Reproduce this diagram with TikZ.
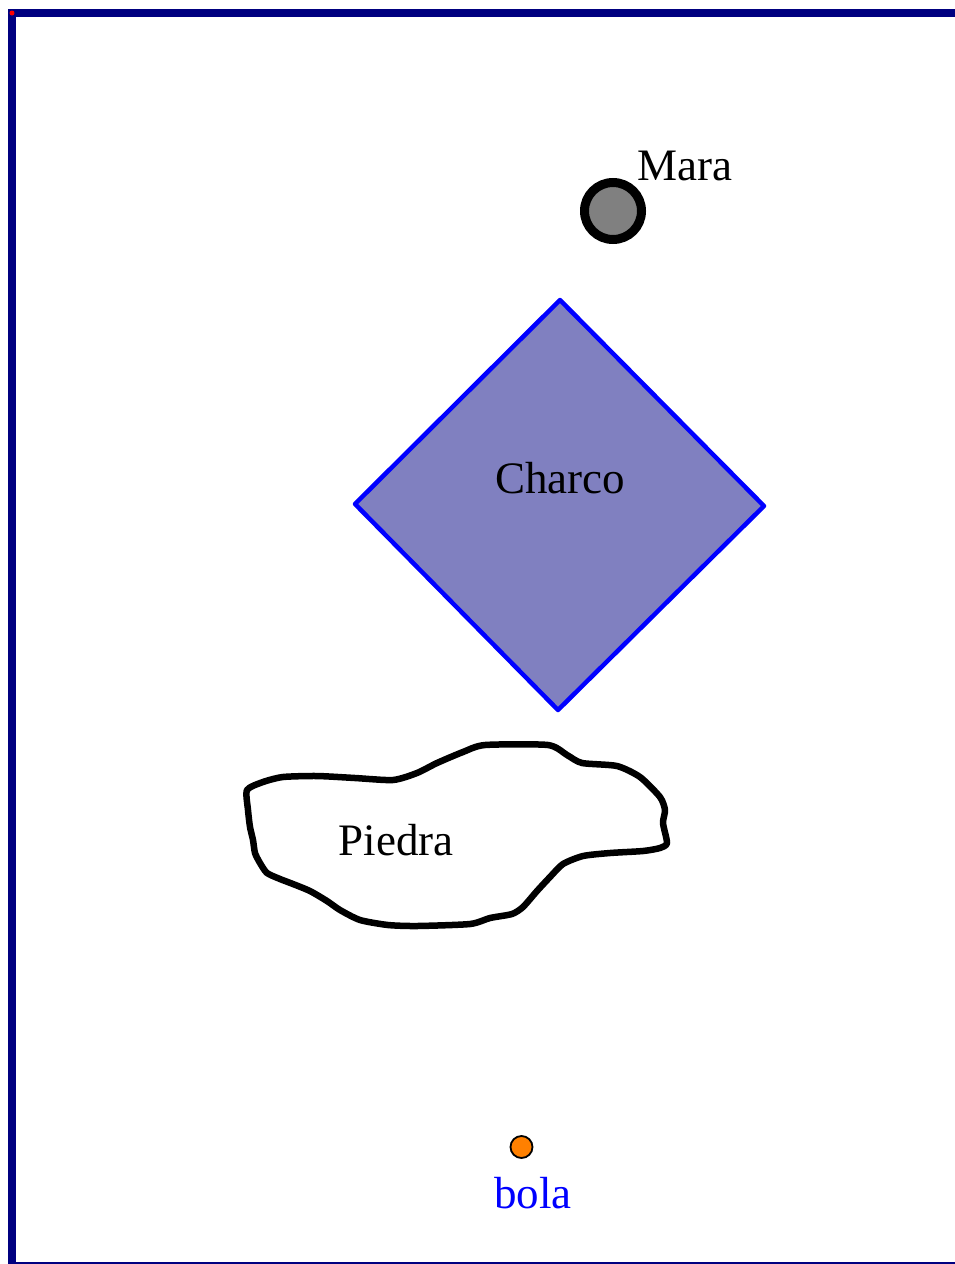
\documentclass[tikz,border=0pt]{standalone}
\usepackage{fontspec}
\setmainfont{Liberation Serif}
\definecolor{framenavy}{HTML}{000080}
\definecolor{charcofill}{HTML}{8080C0}
\definecolor{bolaorange}{HTML}{FF8000}
\definecolor{maragray}{HTML}{808080}
\tikzset{
  lbl/.style={inner sep=0pt, font=\fontsize{45}{50}\selectfont},
  framestroke/.style={draw=framenavy, line width=8pt},
}
\begin{document}
\begin{tikzpicture}[x=1pt,y=-1pt]
\useasboundingbox (0,0) rectangle (955,1264);
\fill[white] (0,0) rectangle (955,1264);
% frame
\coordinate (tl) at (12,13);
\coordinate (tr) at (960,13);
\coordinate (bl) at (12,1266);
\coordinate (br) at (960,1266);
\draw[framestroke, line cap=rect] (tr) -- (tl) -- (bl);
\draw[framestroke] (bl) -- (br);
\fill[red] (tl) circle (2.5pt);
% Mara
\draw[line width=9pt, fill=maragray] (613,211) circle (28.5pt);
\node[lbl, anchor=base west] (mara) at (637,180) {Mara};
% Charco
\coordinate (ct) at (560,300);
\coordinate (cr) at (764,506);
\coordinate (cb) at (558,710);
\coordinate (cl) at (355,504);
\filldraw[fill=charcofill, draw=blue, line width=4.5pt, line join=round] (ct) -- (cr) -- (cb) -- (cl) -- cycle;
\node[lbl, anchor=base] (charco) at (560,493) {Charco};
% Piedra
\draw[line width=6.5pt, line join=round] plot[smooth cycle, tension=0.4] coordinates {
 (247,790) (263,782) (283,777) (317,776) (355,778) (393,780) (417,773) (437,763)
 (463,752) (485,745) (548,745) (567,755) (582,763) (617,766) (640,777) (660,797)
 (665,810) (663,823) (667,843) (660,848) (643,851) (610,853) (583,856) (563,864)
 (550,877) (537,891) (523,907) (512,914) (490,918) (470,924) (417,926) (388,925)
 (360,920) (340,910) (327,901) (310,891) (293,884) (280,879) (267,873) (260,863)
 (255,853) (253,840) (250,827) (248,810)};
\node[lbl, anchor=base] (piedra) at (396,855) {Piedra};
% bola
\draw[line width=1.8pt, fill=bolaorange] (521.5,1147) circle (11pt);
\node[lbl, anchor=base, text=blue] (bola) at (533,1208) {bola};
\end{tikzpicture}
\end{document}
